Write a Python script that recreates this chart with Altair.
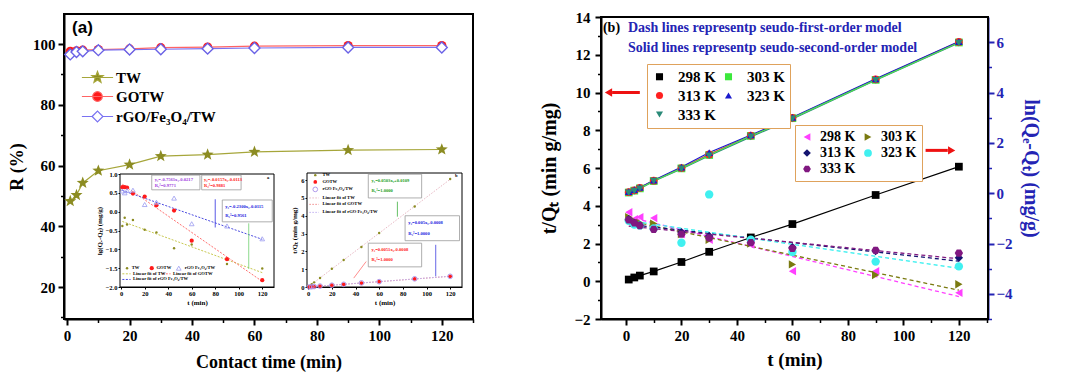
import math
import altair as alt
import pandas as pd

FONT = "'Liberation Serif', 'Times New Roman', serif"

# ---------------- data ----------------
t_min = [1, 3, 5, 10, 20, 30, 45, 60, 90, 120]

# panel (a): removal efficiency R (%)
series_a = ["TW", "GOTW", "rGO/Fe₃O₄/TW"]
removal_tw = [48.3, 50.3, 54.3, 58.3, 60.3, 63.1, 63.6, 64.5, 65.1, 65.3]
removal_gotw = [97.6, 97.8, 98.0, 98.2, 98.4, 98.8, 99.0, 99.3, 99.5, 99.5]
removal_rgo = [96.6, 97.4, 97.6, 98.0, 98.2, 98.3, 98.5, 98.7, 98.9, 98.9]

# inset a: lg(Qe-Qt)
lgq_tw = [-0.38, -0.16, -0.34, -0.22, -0.48, -0.55, -0.97, -0.87, -1.39, -1.51]
lgq_gotw = [0.65, 0.65, 0.64, 0.48, 0.40, 0.17, 0.03, -0.77, -1.26, -1.82]
lgq_rgo = [0.55, 0.50, 0.56, 0.57, 0.19, 0.25, 0.36, -0.32, -0.38, -0.72]

# inset b: t/Qt
tq_tw = [0.05, 0.16, 0.26, 0.51, 1.02, 1.52, 2.25, 3.03, 4.52, 6.06]
tq_gotw = [0.005, 0.015, 0.025, 0.05, 0.10, 0.15, 0.22, 0.30, 0.45, 0.60]
tq_rgo = [0.006, 0.016, 0.026, 0.051, 0.10, 0.15, 0.23, 0.30, 0.46, 0.60]

# panel (b): t/Qt (left axis) at five temperatures
temps = ["298 K", "303 K", "313 K", "323 K", "333 K"]
tqb_298 = [0.09, 0.20, 0.30, 0.52, 1.02, 1.56, 2.32, 3.03, 4.57, 6.07]
tqb_303 = [4.70, 4.80, 4.92, 5.31, 5.98, 6.69, 7.70, 8.64, 10.67, 12.65]
tqb_313 = [4.72, 4.82, 4.95, 5.33, 6.00, 6.72, 7.72, 8.66, 10.70, 12.68]
tqb_323 = [4.75, 4.85, 4.97, 5.35, 6.05, 6.82, 7.75, 8.68, 10.72, 12.70]
tqb_333 = [4.68, 4.78, 4.90, 5.30, 5.95, 6.65, 7.65, 8.60, 10.65, 12.62]

# panel (b): ln(Qe-Qt) (right axis)
ln_298 = [-0.76, -1.03, -0.95, -0.99, -1.63, -1.85, -2.04, -3.10, -3.10, -3.96]
ln_303 = [-0.95, -1.10, -1.18, -1.21, -1.63, -1.85, -2.00, -2.83, -3.25, -3.62]
ln_313 = [-1.03, -1.18, -1.25, -1.40, -1.55, -1.70, -1.85, -2.15, -2.30, -2.57]
ln_323 = [-1.10, -1.25, -1.29, -1.40, -1.97, -0.05, -1.85, -2.34, -2.72, -2.91]
ln_333 = [-1.06, -1.18, -1.29, -1.44, -1.63, -1.78, -1.97, -2.19, -2.27, -2.38]

# inset equation boxes (x0, x1, y0, y1 in inset data units) and their two text lines
eqa_box_x0 = [26, 68.5, 86]
eqa_box_x1 = [67, 102, 128.5]
eqa_box_y0 = [0.58, 0.58, -0.27]
eqa_box_y1 = [0.97, 0.97, 0.31]
eqa_line1 = ["y₁=-0.7561x₁-0.0217", "y₂=-0.0157x₂-0.0113", "y₃=-0.2300x₃-0.0115"]
eqa_line2 = ["R₁²=0.9771", "R₂²=0.9881", "R₃²=0.9561"]
eqa_color = ["#a040e0", "#ff2020", "#2020e0"]

eqb_box_x0 = [50.8, 81.9, 50.8]
eqb_box_x1 = [95.9, 127.9, 95.9]
eqb_box_y0 = [5.0, 2.6, 1.13]
eqb_box_y1 = [6.33, 4.0, 2.46]
eqb_line1 = ["y₁=0.0503x₁+0.0109", "y₂=0.005x₂-0.0008", "y₃=0.0051x₃-0.0008"]
eqb_line2 = ["R₁²=1.0000", "R₂²=1.0000", "R₃²=1.0000"]
eqb_color = ["#20a020", "#2020e0", "#ff2020"]

# ---------------- colours ----------------
OLIVE = "#8c8c22"
RED = "#ff1a1a"
PURPLE = "#6a62e6"
line_a = ["#a6a63a", "#ff6464", "#7a72f2"]

col_left = ["#000000", "#3ce83c", "#ff2020", "#1a1acc", "#2a8a78"]
col_right = ["#ff40ff", "#7a7a10", "#141470", "#40f0f0", "#801880"]
BLUE_T = "#2424b4"
HEX = "M1,0L0.5,0.866L-0.5,0.866L-1,0L-0.5,-0.866L0.5,-0.866Z"
shp_left = ["square", "square", "circle", "triangle-up", "triangle-down"]
shp_right = ["triangle-left", "triangle-right", "diamond", "circle", HEX]

# star symbol path (unit coordinates)
_pts = []
for k in range(10):
    ang = math.radians(-90 + 36 * k)
    rr = 1.0 if k % 2 == 0 else 0.42
    _pts.append(f"{rr*math.cos(ang):.3f},{rr*math.sin(ang):.3f}")
STAR = "M" + "L".join(_pts) + "Z"
leg_paths = [
    STAR + " M-2.6,0L2.6,0",
    "M-0.8,0A0.8,0.8 0 1,0 0.8,0A0.8,0.8 0 1,0 -0.8,0Z M-2.6,0L2.6,0",
    "M-0.9,0L0,-0.9L0.9,0L0,0.9Z M-2.6,0L-0.9,0 M0.9,0L2.6,0",
]

# ---------------- scales (domain, pixel range) ----------------
A_X = ([-1, 130], [0, 409])
A_Y = ([9.5, 109.9], [305, 0])
B_X = ([-9, 130.5], [537, 924])
B_YL = ([-2, 14], [305, 3])
B_YR = ([-5, 7], [305, 3])
IA_X = ([-1, 130], [56, 210])
IA_Y = ([-2, 1], [273, 160])
IB_X = ([-1, 130], [243, 398])
IB_Y = ([0, 6.4], [273, 159])


def sc(dom, rng):
    return alt.Scale(domain=dom, range=rng, nice=False, zero=False)


def X(f, s, axis=None):
    return alt.X(f, type="quantitative", scale=sc(*s), axis=axis)


def Y(f, s, axis=None):
    return alt.Y(f, type="quantitative", scale=sc(*s), axis=axis)


def ax(orient, values, title=None, offset=0, color="black", lsize=15, tsize=18,
       tpad=8, lpad=3, tick=6, width=2.0, fmt=None, labels=True, domain=True,
       font=FONT):
    kw = dict(orient=orient, values=values, offset=offset, grid=False,
              minExtent=0, maxExtent=400, domain=domain, domainColor=color,
              domainWidth=width, ticks=True, tickColor=color, tickWidth=width,
              tickSize=tick, labels=labels, labelColor=color, labelFont=font,
              labelFontWeight="bold", labelFontSize=lsize, labelPadding=lpad,
              labelFlush=False, labelOverlap=False, title=title)
    if title is not None:
        kw.update(titleColor=color, titleFont=font, titleFontWeight="bold",
                  titleFontSize=tsize, titlePadding=tpad)
    if fmt is not None:
        kw["format"] = fmt
    return alt.Axis(**kw)


def frame(xs, ys):
    return pd.DataFrame({"x": [xs[0][0]], "x2": [xs[0][1]],
                         "y": [ys[0][0]], "y2": [ys[0][1]]})


# ---------------- tables ----------------
def long(vals, names):
    rows = []
    for name, vs in zip(names, vals):
        for tt, v in zip(t_min, vs):
            rows.append({"t": tt, "v": v, "S": name})
    return pd.DataFrame(rows)


dfA = long([removal_tw, removal_gotw, removal_rgo], series_a)
dfIA = long([lgq_tw, lgq_gotw, lgq_rgo], series_a)
dfIB = long([tq_tw, tq_gotw, tq_rgo], series_a)
dfBL = long([tqb_298, tqb_303, tqb_313, tqb_323, tqb_333], temps)
dfBR = long([ln_298, ln_303, ln_313, ln_323, ln_333], temps)

layers = []

# ================= panel (a) =================
layers.append(
    alt.Chart(frame(A_X, A_Y)).mark_rect(fillOpacity=0, stroke="black", strokeWidth=2).encode(
        x=X("x", A_X, ax("bottom", [10, 30, 50, 70, 90, 110, 130], labels=False, domain=False, tick=3.5, width=1.5)),
        x2="x2",
        y=Y("y", A_Y, ax("left", [10, 30, 50, 70, 90], labels=False, domain=False, tick=3.5, width=1.5)),
        y2="y2",
    )
)
for i, s in enumerate(series_a):
    d = dfA[dfA.S == s]
    xa = ax("bottom", [0, 20, 40, 60, 80, 100, 120], "Contact time (min)", tpad=10, lpad=3) if i == 0 else None
    ya = ax("left", [20, 40, 60, 80, 100], "R (%)", tpad=6, lpad=3) if i == 0 else None
    layers.append(alt.Chart(d).mark_line(color=line_a[i], strokeWidth=1.2).encode(
        x=X("t", A_X, xa), y=Y("v", A_Y, ya)))
for i, s in enumerate(series_a):
    d = dfA[dfA.S == s]
    if i == 0:
        m = alt.Chart(d).mark_point(shape=STAR, size=160, filled=True, color=OLIVE, opacity=1)
    elif i == 1:
        m = alt.Chart(d).mark_point(shape="circle", size=85, filled=True, color=RED, opacity=1)
    else:
        m = alt.Chart(d).mark_point(shape="diamond", size=120, filled=True, fill="white",
                                    stroke=PURPLE, strokeWidth=1.4, opacity=1)
    layers.append(m.encode(x=X("t", A_X), y=Y("v", A_Y)))

legA = alt.Legend(title=None, orient="none", legendX=26, legendY=56, labelFont=FONT,
                  labelFontWeight="bold", labelFontSize=15, labelColor="black",
                  symbolSize=144, symbolStrokeWidth=1.2, labelOffset=11, rowPadding=3, padding=0)
leg_df = pd.DataFrame({"S": series_a, "t": [-500] * 3, "v": [50] * 3})
layers.append(
    alt.Chart(leg_df).mark_point(clip=True, size=144, strokeWidth=1.2, opacity=1).encode(
        x=X("t", A_X), y=Y("v", A_Y),
        shape=alt.Shape("S:N", scale=alt.Scale(domain=series_a, range=leg_paths), legend=legA),
        fill=alt.Fill("S:N", scale=alt.Scale(domain=series_a, range=[OLIVE, RED, "white"]), legend=legA),
        stroke=alt.Stroke("S:N", scale=alt.Scale(domain=series_a, range=line_a), legend=legA),
    )
)
layers.append(
    alt.Chart(pd.DataFrame({"t": [1.6], "v": [105.3], "txt": ["(a)"]})).mark_text(
        font="Liberation Sans", fontWeight="bold", fontSize=17, align="left", baseline="middle"
    ).encode(x=X("t", A_X), y=Y("v", A_Y), text="txt:N")
)

# ================= inset a =================
layers.append(
    alt.Chart(frame(IA_X, IA_Y)).mark_rect(fill="white", stroke="black", strokeWidth=1).encode(
        x=X("x", IA_X, ax("bottom", [0, 20, 40, 60, 80, 100, 120], "t (min)", offset=-32,
                          lsize=6.5, tsize=7, tpad=2, lpad=1, tick=2, width=1)),
        x2="x2",
        y=Y("y", IA_Y, ax("left", [-2.0, -1.5, -1.0, -0.5, 0.0, 0.5, 1.0], "lg(Qₑ-Qₜ) (mg/g)", offset=-56,
                          lsize=6.5, tsize=7, tpad=3, lpad=1, tick=2, width=1, fmt=".1f")),
        y2="y2",
    )
)
fit_a_col = ["#c8c850", "#ff7070", "#4a4ae0"]
for i, s in enumerate(series_a):
    d = dfIA[dfIA.S == s]
    layers.append(alt.Chart(d).transform_regression("t", "v").mark_line(
        color=fit_a_col[i], strokeWidth=1, strokeDash=[2, 1.5]).encode(
        x=X("t", IA_X), y=Y("v", IA_Y)))
inset_pt = [dict(shape="circle", size=6, filled=True, color=OLIVE),
            dict(shape="circle", size=18, filled=True, color=RED),
            dict(shape="triangle-up", size=22, filled=False, color="#9a9af0", strokeWidth=0.8)]
for i, s in enumerate(series_a):
    d = dfIA[dfIA.S == s]
    layers.append(alt.Chart(d).mark_point(opacity=1, **inset_pt[i]).encode(
        x=X("t", IA_X), y=Y("v", IA_Y)))


def eq_layers(x0, x1, y0, y1, l1, l2, cols, sx, sy):
    out = []
    df = pd.DataFrame({"x": x0, "x2": x1, "y": y0, "y2": y1, "l1": l1, "l2": l2, "c": cols})
    df["xt"] = df.x + (df.x2 - df.x) * 0.06
    df["ya"] = df.y2 - (df.y2 - df.y) * 0.3
    df["yb"] = df.y2 - (df.y2 - df.y) * 0.72
    out.append(alt.Chart(df).mark_rect(fill="white", stroke="#9a9a9a", strokeWidth=0.8).encode(
        x=X("x", sx), x2="x2", y=Y("y", sy), y2="y2"))
    for fld, yf in (("l1", "ya"), ("l2", "yb")):
        out.append(alt.Chart(df).mark_text(font=FONT, fontWeight="bold", fontSize=4.6,
                                           align="left", baseline="middle").encode(
            x=X("xt", sx), y=Y(yf, sy), text=f"{fld}:N",
            color=alt.Color("c:N", scale=None)))
    return out


# connector lines in inset a
conn_a = pd.DataFrame({"x": [80, 108.5], "x2": [80, 108.5], "y": [0.33, -0.31], "y2": [-0.42, -1.52],
                       "c": ["#3030e0", "#70d070"]})
layers.append(alt.Chart(conn_a).mark_rule(strokeWidth=0.8).encode(
    x=X("x", IA_X), x2="x2", y=Y("y", IA_Y), y2="y2", color=alt.Color("c:N", scale=None)))
layers += eq_layers(eqa_box_x0, eqa_box_x1, eqa_box_y0, eqa_box_y1, eqa_line1, eqa_line2, eqa_color, IA_X, IA_Y)

# inset a legend
ia_leg_pts = pd.DataFrame({"x": [5, 26, 49], "y": [-1.5, -1.5, -1.5], "S": series_a})
for i, s in enumerate(series_a):
    layers.append(alt.Chart(ia_leg_pts[ia_leg_pts.S == s]).mark_point(opacity=1, **inset_pt[i]).encode(
        x=X("x", IA_X), y=Y("y", IA_Y)))
ia_leg_lines = pd.DataFrame({"x": [1, 35, 1], "x2": [8, 42, 8], "y": [-1.65, -1.65, -1.8], "c": fit_a_col})
layers.append(alt.Chart(ia_leg_lines).mark_rule(strokeWidth=1, strokeDash=[2, 1.5]).encode(
    x=X("x", IA_X), x2="x2", y=Y("y", IA_Y), color=alt.Color("c:N", scale=None)))
ia_leg_txt = pd.DataFrame({
    "x": [9, 30, 54, 10, 44, 10, 124],
    "y": [-1.5, -1.5, -1.5, -1.65, -1.65, -1.8, 0.9],
    "txt": ["TW", "GOTW", "rGO Fe₃O₄/TW", "Linear fit of TW", "Linear fit of GOTW",
            "Linear fit of rGO Fe₃O₄/TW", "a"]})
layers.append(alt.Chart(ia_leg_txt).mark_text(font=FONT, fontWeight="bold", fontSize=4.6,
                                               align="left", baseline="middle").encode(
    x=X("x", IA_X), y=Y("y", IA_Y), text="txt:N"))

# ================= inset b =================
layers.append(
    alt.Chart(frame(IB_X, IB_Y)).mark_rect(fill="white", stroke="black", strokeWidth=1).encode(
        x=X("x", IB_X, ax("bottom", [0, 20, 40, 60, 80, 100, 120], "t (min)", offset=-32,
                          lsize=6.5, tsize=7, tpad=2, lpad=1, tick=2, width=1)),
        x2="x2",
        y=Y("y", IB_Y, ax("left", [0, 1, 2, 3, 4, 5, 6], "t/Qₜ (min g/mg)", offset=-243,
                          lsize=6.5, tsize=7, tpad=3, lpad=1, tick=2, width=1)),
        y2="y2",
    )
)
fit_b_col = ["#e8b8c4", "#f08a8a", "#c0b0f0"]
for i, s in enumerate(series_a):
    d = dfIB[dfIB.S == s]
    layers.append(alt.Chart(d).transform_regression("t", "v").mark_line(
        color=fit_b_col[i], strokeWidth=1, strokeDash=[1.5, 1.5]).encode(
        x=X("t", IB_X), y=Y("v", IB_Y)))
inset_pt_b = [dict(shape="circle", size=6, filled=True, color=OLIVE),
              dict(shape="circle", size=14, filled=True, color=RED),
              dict(shape="circle", size=22, filled=False, color="#a890e8", strokeWidth=0.9)]
for i, s in enumerate(series_a):
    d = dfIB[dfIB.S == s]
    layers.append(alt.Chart(d).mark_point(opacity=1, **inset_pt_b[i]).encode(
        x=X("t", IB_X), y=Y("v", IB_Y)))
conn_b = pd.DataFrame({"x": [75.4, 107.8, 49], "x2": [75.4, 107.8, 38.5], "y": [4.79, 2.37, 1.43],
                       "y2": [3.95, 0.6, 0.5], "c": ["#40b040", "#4040e0", "#ff7070"]})
layers.append(alt.Chart(conn_b).mark_rule(strokeWidth=0.8).encode(
    x=X("x", IB_X), x2="x2", y=Y("y", IB_Y), y2="y2", color=alt.Color("c:N", scale=None)))
layers += eq_layers(eqb_box_x0, eqb_box_x1, eqb_box_y0, eqb_box_y1, eqb_line1, eqb_line2, eqb_color, IB_X, IB_Y)
ib_leg_pts = pd.DataFrame({"x": [6, 6, 6], "y": [6.28, 5.9, 5.48], "S": series_a})
for i, s in enumerate(series_a):
    layers.append(alt.Chart(ib_leg_pts[ib_leg_pts.S == s]).mark_point(opacity=1, **inset_pt_b[i]).encode(
        x=X("x", IB_X), y=Y("y", IB_Y)))
ib_leg_lines = pd.DataFrame({"x": [1, 1, 1], "x2": [9, 9, 9], "y": [5.0, 4.64, 4.19], "c": fit_b_col})
layers.append(alt.Chart(ib_leg_lines).mark_rule(strokeWidth=1, strokeDash=[1.5, 1.5]).encode(
    x=X("x", IB_X), x2="x2", y=Y("y", IB_Y), color=alt.Color("c:N", scale=None)))
ib_leg_txt = pd.DataFrame({
    "x": [12, 12, 12, 12, 12, 12, 124],
    "y": [6.28, 5.9, 5.48, 5.0, 4.64, 4.19, 6.25],
    "txt": ["TW", "GOTW", "rGO Fe₃O₄/TW", "Linear fit of TW", "Linear fit of GOTW",
            "Linear fit of rGO Fe₃O₄/TW", "b"]})
layers.append(alt.Chart(ib_leg_txt).mark_text(font=FONT, fontWeight="bold", fontSize=4.6,
                                               align="left", baseline="middle").encode(
    x=X("x", IB_X), y=Y("y", IB_Y), text="txt:N"))

# ================= panel (b) =================
layers.append(
    alt.Chart(frame(B_X, B_YL)).mark_rect(fillOpacity=0, stroke="black", strokeWidth=2).encode(
        x=X("x", B_X, ax("bottom", [10, 30, 50, 70, 90, 110, 130], labels=False, domain=False, tick=3.5, width=1.5)),
        x2="x2",
        y=Y("y", B_YL, ax("left", [-1, 1, 3, 5, 7, 9, 11, 13], labels=False, domain=False, tick=3.5,
                          width=1.5, offset=-537)),
        y2="y2",
    )
)
# solid lines (pseudo-second-order)
layers.append(alt.Chart(dfBL[dfBL.S != "303 K"]).mark_line(strokeWidth=1.2).encode(
    x=X("t", B_X), y=Y("v", B_YL),
    color=alt.Color("S:N", scale=alt.Scale(domain=temps, range=col_left), legend=None)))
layers.append(alt.Chart(dfBL[dfBL.S == "303 K"]).mark_line(strokeWidth=1.2, color="#50e050").encode(
    x=X("t", B_X), y=Y("v", B_YL)))
# dashed lines (pseudo-first-order)
layers.append(alt.Chart(dfBR).transform_regression("t", "v", groupby=["S"]).mark_line(
    strokeWidth=1.3, strokeDash=[4, 3]).encode(
    x=X("t", B_X),
    y=Y("v", B_YR, ax("right", [-5, -3, -1, 1, 3, 5], labels=False, domain=False, tick=3.5,
                      width=1.5, color=BLUE_T)),
    color=alt.Color("S:N", scale=alt.Scale(domain=temps, range=col_right), legend=None)))

legB1 = alt.Legend(title=None, orient="none", legendX=583, legendY=50, columns=2, direction="horizontal",
                   strokeColor="#dfa25c", fillColor="white", padding=5, labelFont=FONT,
                   labelFontWeight="bold", labelFontSize=15, labelColor="black", symbolSize=50,
                   labelOffset=11, columnPadding=5, rowPadding=3, symbolStrokeWidth=0)
legB2 = alt.Legend(title=None, orient="none", legendX=731, legendY=111, columns=2, direction="horizontal",
                   strokeColor="#dfa25c", fillColor="white", padding=5, labelFont=FONT,
                   labelFontWeight="bold", labelFontSize=14, labelColor="black", symbolSize=60,
                   labelOffset=6, columnPadding=5, rowPadding=2, symbolStrokeWidth=0)

layers.append(alt.Chart(dfBL).mark_point(filled=True, size=60, opacity=1).encode(
    x=X("t", B_X, ax("bottom", [0, 20, 40, 60, 80, 100, 120], "t (min)", tsize=19, tpad=7, lpad=3)),
    y=Y("v", B_YL, ax("left", [-2, 0, 2, 4, 6, 8, 10, 12, 14], "t/Qₜ (min g/mg)", offset=-537,
                      tsize=20, tpad=14, lpad=5)),
    color=alt.Color("S:N", scale=alt.Scale(domain=temps, range=col_left), legend=legB1),
    shape=alt.Shape("S:N", scale=alt.Scale(domain=temps, range=shp_left), legend=legB1),
))
layers.append(alt.Chart(dfBR).mark_point(filled=True, size=70, opacity=1).encode(
    x=X("t", B_X),
    y=Y("v", B_YR, ax("right", [-4, -2, 0, 2, 4, 6], "ln(Qₑ-Qₜ) (mg/g)", color=BLUE_T,
                      tsize=20, tpad=8, lpad=2)),
    color=alt.Color("S:N", scale=alt.Scale(domain=temps, range=col_right), legend=legB2),
    shape=alt.Shape("S:N", scale=alt.Scale(domain=temps, range=shp_right), legend=legB2),
))

# arrows
arr_l = pd.DataFrame({"x": [5.0], "x2": [-5.0], "y": [10.0]})
layers.append(alt.Chart(arr_l).mark_rule(color="#ee1111", strokeWidth=3).encode(
    x=X("x", B_X), x2="x2", y=Y("y", B_YL)))
layers.append(alt.Chart(pd.DataFrame({"x": [-6.3], "y": [10.0]})).mark_point(
    shape="triangle-left", size=70, filled=True, color="#ee1111", opacity=1).encode(
    x=X("x", B_X), y=Y("y", B_YL)))
arr_r = pd.DataFrame({"x": [108.0], "x2": [116.0], "y": [1.7]})
layers.append(alt.Chart(arr_r).mark_rule(color="#ee1111", strokeWidth=3).encode(
    x=X("x", B_X), x2="x2", y=Y("y", B_YR)))
layers.append(alt.Chart(pd.DataFrame({"x": [117.4], "y": [1.7]})).mark_point(
    shape="triangle-right", size=70, filled=True, color="#ee1111", opacity=1).encode(
    x=X("x", B_X), y=Y("y", B_YR)))

# text in panel (b)
txt_b = pd.DataFrame({"x": [-8.3, 0.7, 0.7], "y": [13.42, 13.42, 12.36],
                      "txt": ["(b)", "Dash lines representp seudo-first-order model",
                              "Solid  lines representp seudo-second-order model"],
                      "c": ["black", BLUE_T, BLUE_T]})
layers.append(alt.Chart(txt_b).mark_text(font=FONT, fontWeight="bold", fontSize=14,
                                         align="left", baseline="middle").encode(
    x=X("x", B_X), y=Y("y", B_YL), text="txt:N", color=alt.Color("c:N", scale=None)))

chart = alt.layer(*layers).resolve_scale(
    x="independent", y="independent", color="independent", shape="independent",
    fill="independent", stroke="independent"
).properties(
    width=924, height=305,
    autosize=alt.AutoSizeParams(type="none"),
    padding={"left": 56, "top": 6, "right": 69, "bottom": 54},
).configure_view(strokeWidth=0)

chart.save("out.html", embed_options={"renderer": "svg", "actions": False})
